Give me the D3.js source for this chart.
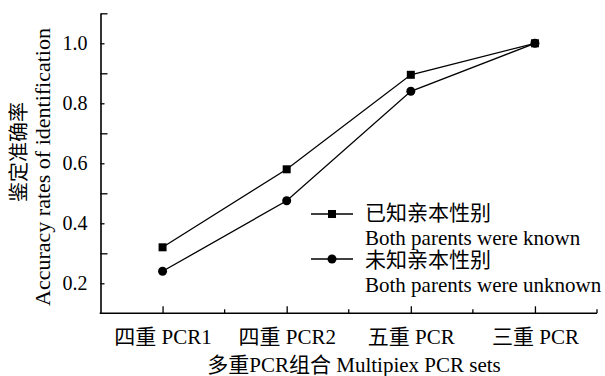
<!DOCTYPE html>
<html><head><meta charset="utf-8">
<script src="https://cdn.jsdelivr.net/npm/d3@7"></script>
<style>
body{margin:0;background:#fff;}
text{font-family:"Liberation Serif","Noto Sans CJK SC",serif;fill:#000;}
</style></head>
<body><svg id="c" width="605" height="376"></svg>
<script>
const categories = ["四重 PCR1", "四重 PCR2", "五重 PCR", "三重 PCR"];
const knownValues = [0.32, 0.58, 0.895, 1.0];
const unknownValues = [0.24, 0.475, 0.84, 1.0];
const yLabelTicks = [0.2, 0.4, 0.6, 0.8, 1.0];
const yMajorTicks = [0.3, 0.5, 0.7, 0.9, 1.1];
const seriesNames = [["已知亲本性别", "Both parents were known"], ["未知亲本性别", "Both parents were unknown"]];
const xTitle = "多重PCR组合 Multipiex PCR sets";
const yTitleCn = "鉴定准确率";
const yTitleEn = "Accuracy rates of identification";

const FF = '"Liberation Serif","Noto Sans CJK SC",serif';
const svg = d3.select("#c");
const L = 100.5, R = 597, T = 13.3, B = 313.3;
const x = d3.scalePoint().domain(categories).range([L, R]).padding(0.5);
const y = d3.scaleLinear().domain([0.1, 1.1]).range([B, T]);

// y axis
const yAx = svg.append("g").attr("transform", `translate(${L},0)`)
  .call(d3.axisLeft(y).tickValues(yLabelTicks).tickSizeInner(-4).tickSizeOuter(0).tickPadding(13).tickFormat(d3.format(".1f")));
yAx.attr("font-family", FF).attr("font-size", 20);
yAx.select(".domain").attr("stroke-width", 1.6);
const yMaj = svg.append("g").attr("transform", `translate(${L},0)`)
  .call(d3.axisLeft(y).tickValues(yMajorTicks).tickSizeInner(-7).tickSizeOuter(0).tickFormat(""));
yMaj.select(".domain").remove();

// x axis
const step = x.step();
const mids = categories.map(c => x(c) + step / 2);
const xAx = svg.append("g").attr("transform", `translate(0,${B})`)
  .call(d3.axisBottom(x).tickSizeInner(-7).tickSizeOuter(0).tickPadding(15.5));
xAx.attr("font-family", FF).attr("font-size", 21);
xAx.select(".domain").attr("stroke-width", 1.6).attr("d", `M${L - 0.8},0H${R}`);
const xMin = svg.append("g").attr("transform", `translate(0,${B})`);
xMin.selectAll("line").data(mids).join("line")
  .attr("x1", d => d).attr("x2", d => d).attr("y1", 0).attr("y2", -4)
  .attr("stroke", "#000").attr("stroke-width", 1.3);
svg.selectAll("g.tick line").attr("stroke-width", 1.3);

// lines
const line = d3.line().x((d, i) => x(categories[i])).y(d => y(d));
svg.append("path").datum(knownValues).attr("d", line).attr("fill", "none").attr("stroke", "#000").attr("stroke-width", 1.3);
svg.append("path").datum(unknownValues).attr("d", line).attr("fill", "none").attr("stroke", "#000").attr("stroke-width", 1.3);
svg.selectAll("rect.m").data(knownValues).join("rect").attr("class", "m")
  .attr("x", (d, i) => x(categories[i]) - 4).attr("y", d => y(d) - 4).attr("width", 8).attr("height", 8).attr("fill", "#000");
svg.selectAll("circle.m").data(unknownValues).join("circle").attr("class", "m")
  .attr("cx", (d, i) => x(categories[i])).attr("cy", d => y(d)).attr("r", 4.5).attr("fill", "#000");

// legend
const lg = [{y: 214, b: 220, name: seriesNames[0], shape: "rect"}, {y: 259, b: 267, name: seriesNames[1], shape: "circle"}];
lg.forEach(l => {
  svg.append("line").attr("x1", 311).attr("x2", 353).attr("y1", l.y).attr("y2", l.y).attr("stroke", "#000").attr("stroke-width", 1.3);
  if (l.shape === "rect") svg.append("rect").attr("x", 328).attr("y", l.y - 4).attr("width", 8).attr("height", 8);
  else svg.append("circle").attr("cx", 332).attr("cy", l.y).attr("r", 4.5);
  svg.append("text").attr("x", 365).attr("y", l.b).attr("font-size", 21).text(l.name[0]);
  svg.append("text").attr("x", 365).attr("y", l.b + 25).attr("font-size", 21).text(l.name[1]);
});

// titles
svg.append("text").attr("x", 354).attr("y", 372).attr("text-anchor", "middle").attr("font-size", 21).text(xTitle);
svg.append("text").attr("transform", "translate(26,152) rotate(-90)").attr("text-anchor", "middle").attr("font-size", 20).text(yTitleCn);
svg.append("text").attr("transform", "translate(50,167) rotate(-90)").attr("text-anchor", "middle").attr("font-size", 22).text(yTitleEn);
</script></body></html>
